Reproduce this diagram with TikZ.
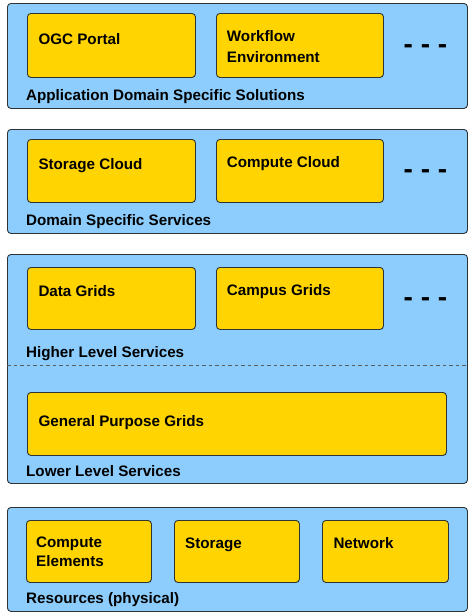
\documentclass[tikz,border=0pt]{standalone}
\usepackage{fontspec}
\setmainfont{Liberation Sans}
\definecolor{layerblue}{HTML}{8CCDFD}
\definecolor{boxgold}{HTML}{FFD400}
\definecolor{edgegray}{HTML}{2E3436}
\begin{document}
\begin{tikzpicture}[x=1pt,y=-1pt,
  layer/.style={draw=edgegray, line width=0.9pt, fill=layerblue, rounded corners=3.5pt, anchor=north west, inner sep=0pt},
  gbox/.style={draw=edgegray, line width=0.9pt, fill=boxgold, rounded corners=3.5pt, anchor=north west, inner sep=0pt},
  txt/.style={anchor=base west, inner sep=0pt, font=\fontsize{15.2}{21}\selectfont\bfseries, text=black, align=left},
  dots/.style={anchor=base, inner sep=0pt, font=\fontsize{28}{28}\selectfont\bfseries}
]
\useasboundingbox (0,0) rectangle (472,614);
% Layer 1
\node[layer, minimum width=460pt, minimum height=105pt] (L1) at (7,3) {};
\node[gbox, minimum width=168pt, minimum height=64pt] (ogc) at (27,13) {};
\node[gbox, minimum width=167pt, minimum height=64pt] (wf) at (216,13) {};
\node[txt] (ogct) at (38.3,44) {OGC Portal};
\node[txt, anchor=west] (wft) at (226.7,46.7) {Workflow\\Environment};
\node[dots] (d1) at (425.5,53) {- - -};
\node[txt] (l1t) at (26,100) {Application Domain Specific Solutions};
% Layer 2
\node[layer, minimum width=460pt, minimum height=104pt] (L2) at (7,129) {};
\node[gbox, minimum width=168pt, minimum height=63pt] (sc) at (27,139) {};
\node[gbox, minimum width=167pt, minimum height=63pt] (cc) at (216,139) {};
\node[txt] (sct) at (38.3,169.3) {Storage Cloud};
\node[txt] (cct) at (226.7,167.3) {Compute Cloud};
\node[dots] (d2) at (425.5,178.5) {- - -};
\node[txt] (l2t) at (26,225.7) {Domain Specific Services};
% Layer 3
\node[layer, minimum width=460pt, minimum height=229pt] (L3) at (7,254) {};
\node[gbox, minimum width=168pt, minimum height=62pt] (dg) at (27,267) {};
\node[gbox, minimum width=167pt, minimum height=62pt] (cg) at (216,267) {};
\node[txt] (dgt) at (38.3,296.7) {Data Grids};
\node[txt] (cgt) at (226.7,295) {Campus Grids};
\node[dots] (d3) at (425.5,306.5) {- - -};
\node[txt] (hlt) at (26,357) {Higher Level Services};
\coordinate (sepL) at (7,365);
\coordinate (sepR) at (467,365);
\draw[edgegray!80, line width=0.8pt, dash pattern=on 3.5pt off 3pt] (sepL) -- (sepR);
\node[gbox, minimum width=419pt, minimum height=63pt] (gp) at (27,392) {};
\node[txt] (gpt) at (38.3,426.7) {General Purpose Grids};
\node[txt] (llt) at (26,476.7) {Lower Level Services};
% Layer 4
\node[layer, minimum width=460pt, minimum height=104pt] (L4) at (7,507) {};
\node[gbox, minimum width=125pt, minimum height=62pt] (ce) at (26,520) {};
\node[gbox, minimum width=125pt, minimum height=62pt] (st) at (174,520) {};
\node[gbox, minimum width=126pt, minimum height=62pt] (nw) at (322,520) {};
\node[txt, anchor=west, font=\fontsize{15.2}{19}\selectfont\bfseries] (cet) at (36,551.8) {Compute\\Elements};
\node[txt] (stt) at (185,548.3) {Storage};
\node[txt] (nwt) at (333.3,548.3) {Network};
\node[txt] (rst) at (26,603.3) {Resources (physical)};
\end{tikzpicture}
\end{document}
